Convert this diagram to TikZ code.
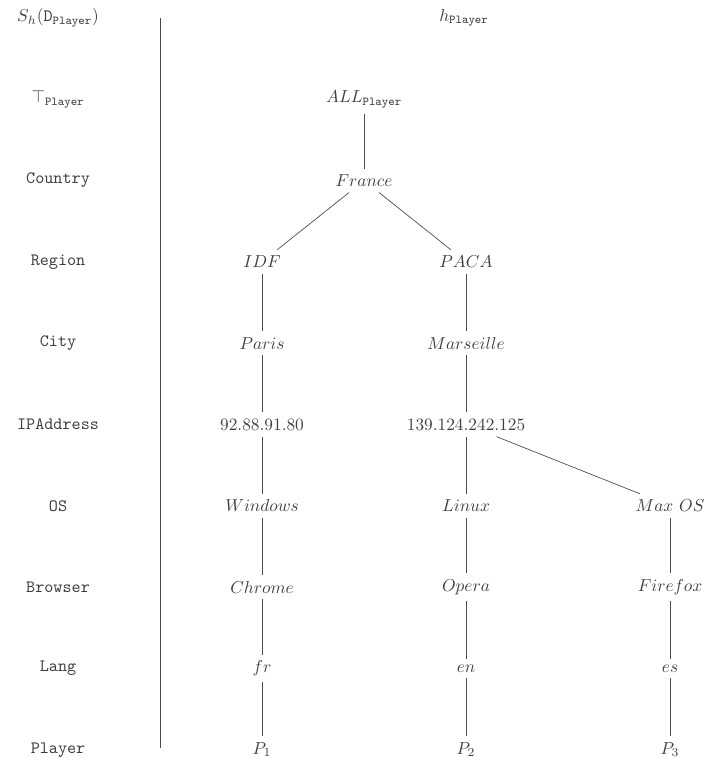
\documentclass[tikz,border=0pt]{standalone}
\usepackage{amsmath}
\usetikzlibrary{positioning}

\begin{document}
\begin{tikzpicture}[x=2.07cm, y=1.65cm, every node/.style={text=black!75},
  level/.style={font=\ttfamily}, edge/.style={draw=black!70, thin}]
\useasboundingbox (-2.569,0.221) rectangle (4.363,-9.102);

% Levels of the hierarchy
\node[level] (lh) at (-2,0) {$S_h($\texttt{D}$_{\texttt{Player}})$};
\node[level] (l0) at (-2,-1) {$\top_{\texttt{Player}}$};
\node[level] (l1) at (-2,-2) {Country};
\node[level] (l2) at (-2,-3) {Region};
\node[level] (l3) at (-2,-4) {City};
\node[level] (l4) at (-2,-5) {IPAddress};
\node[level] (l5) at (-2,-6) {OS};
\node[level] (l6) at (-2,-7) {Browser};
\node[level] (l7) at (-2,-8) {Lang};
\node[level] (l8) at (-2,-9) {Player};

% Separator
\coordinate (sepTop) at (-1,-0.005);
\coordinate (sepBot) at (-1,-8.985);
\draw[edge] (sepTop) -- (sepBot);

% Hierarchy
\node (h) at (1.98,0) {$h_{\texttt{Player}}$};
\node (all) at (1,-1) {$ALL_{\texttt{Player}}$};
\node (france) at (1,-2) {$France$};
\node (idf) at (0,-3) {$IDF$};
\node (paca) at (2,-3) {$PACA$};
\node (paris) at (0,-4) {$Paris$};
\node (marseille) at (2,-4) {$Marseille$};
\node (ipA) at (0,-5) {92.88.91.80};
\node (ipB) at (2,-5) {139.124.242.125};
\node (win) at (0,-6) {$Windows$};
\node (linux) at (2,-6) {$Linux$};
\node (mac) at (4,-6) {$Max\ OS$};
\node (chrome) at (0,-7) {$Chrome$};
\node (opera) at (2,-7) {$Opera$};
\node (firefox) at (4,-7) {$Firefox$};
\node (fr) at (0,-8) {$fr$};
\node (en) at (2,-8) {$en$};
\node (es) at (4,-8) {$es$};
\node (p1) at (0,-9) {$P_1$};
\node (p2) at (2,-9) {$P_2$};
\node (p3) at (4,-9) {$P_3$};

\draw[edge] (all) -- (france);
\draw[edge] (france) -- (idf);
\draw[edge] (france) -- (paca);
\draw[edge] (idf) -- (paris);
\draw[edge] (paca) -- (marseille);
\draw[edge] (paris) -- (ipA);
\draw[edge] (marseille) -- (ipB);
\draw[edge] (ipA) -- (win);
\draw[edge] (ipB) -- (linux);
\draw[edge] (ipB) -- (mac);
\draw[edge] (win) -- (chrome);
\draw[edge] (linux) -- (opera);
\draw[edge] (mac) -- (firefox);
\draw[edge] (chrome) -- (fr);
\draw[edge] (opera) -- (en);
\draw[edge] (firefox) -- (es);
\draw[edge] (fr) -- (p1);
\draw[edge] (en) -- (p2);
\draw[edge] (es) -- (p3);
\end{tikzpicture}
\end{document}
